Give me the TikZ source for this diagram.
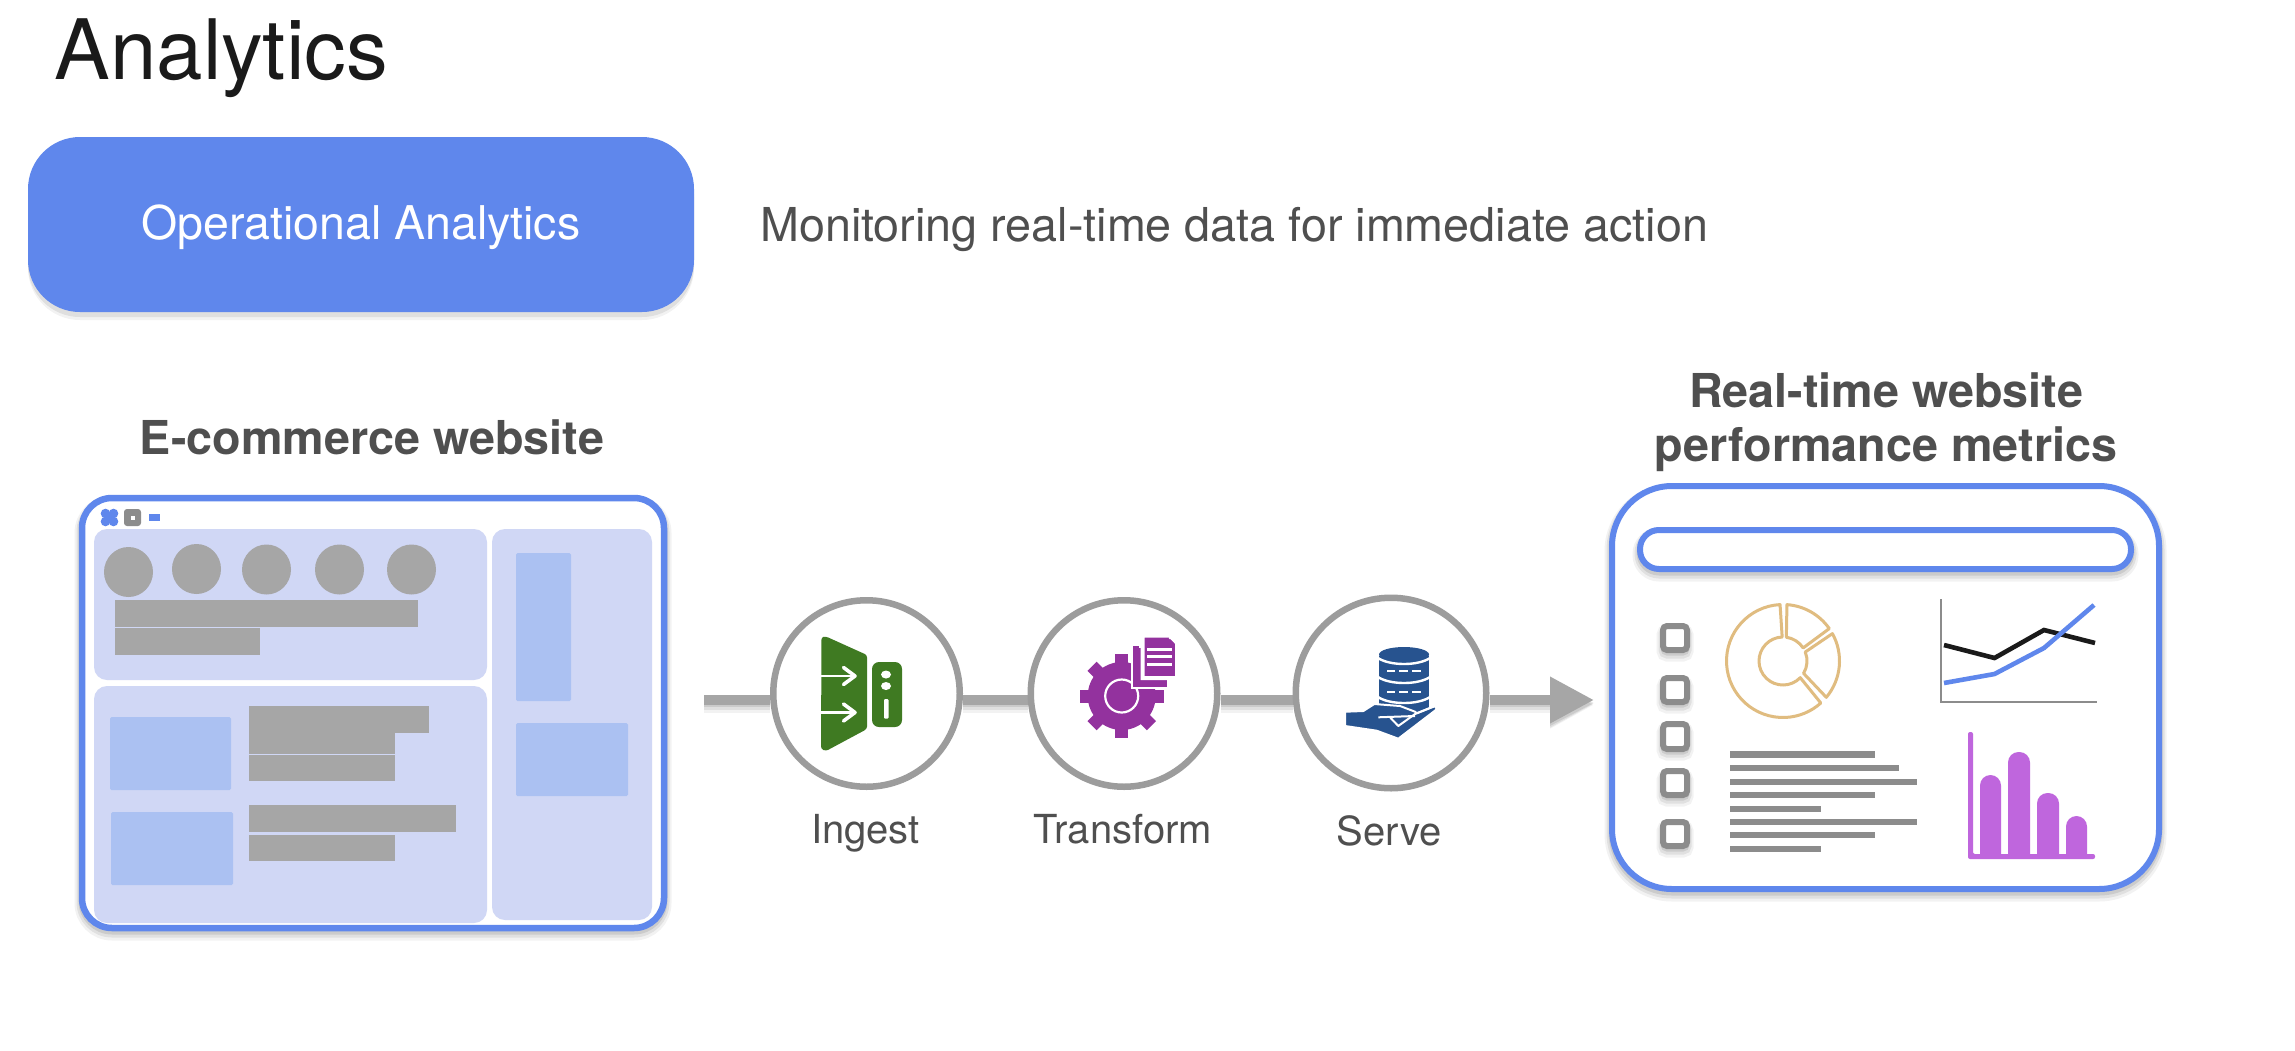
\documentclass[tikz,border=0pt]{standalone}
\usepackage{fontspec}
\setmainfont{TeX Gyre Heros}
\usetikzlibrary{arrows.meta,backgrounds}
\definecolor{bluemain}{HTML}{5F87EC}
\definecolor{panelc}{HTML}{D0D7F5}
\definecolor{innerc}{HTML}{ABC1F2}
\definecolor{grayblock}{HTML}{A6A6A6}
\definecolor{ringc}{HTML}{9C9C9C}
\definecolor{darkgrayc}{HTML}{8C8C8C}
\definecolor{textc}{HTML}{4F4F4F}
\definecolor{titlec}{HTML}{1A1A1A}
\definecolor{greenc}{HTML}{3F7A22}
\definecolor{purplec}{HTML}{93329E}
\definecolor{servec}{HTML}{27538F}
\definecolor{goldc}{HTML}{E0BC80}
\definecolor{barc}{HTML}{BF66DD}
\tikzset{
  softshadow/.style={
    preaction={draw=black,draw opacity=.05,line width=#1+9pt,transform canvas={yshift=-5pt}},
    preaction={draw=black,draw opacity=.07,line width=#1+5pt,transform canvas={yshift=-4pt}},
    preaction={draw=black,draw opacity=.09,line width=#1+1pt,transform canvas={yshift=-3pt}}},
  body/.style={font=\fontsize{40}{46}\selectfont,text=textc,inner sep=0pt,anchor=base},
  heading/.style={font=\fontsize{46.7}{54}\selectfont\bfseries,text=textc,inner sep=0pt,anchor=base},
  stepring/.style={circle,draw=ringc,fill=white,line width=6.5pt,inner sep=0pt},
  conn/.style={draw=grayblock,line width=10pt,softshadow=6pt},
  panel/.style={fill=panelc,rounded corners=13pt},
  inner/.style={fill=innerc,rounded corners=1.5pt},
  block/.style={fill=grayblock},
  lineblock/.style={fill=darkgrayc},
  frame/.style={draw=bluemain,line width=6.5pt,fill=white,softshadow=6pt},
  checkbox/.style={draw=darkgrayc,line width=6pt,fill=white,rounded corners=4pt,softshadow=4pt},
  donut/.style={draw=goldc,line width=3pt,line join=round},
}
\begin{document}
\begin{tikzpicture}[x=1pt,y=-1pt]
\useasboundingbox (0,0) rectangle (2295,1050);

% title and button
\node[anchor=base west,inner sep=0pt,text=titlec,font=\fontsize{83.4}{90}\selectfont] (title) at (54.5,79) {Analytics};
\node[fill=bluemain,rounded corners=52pt,minimum width=666pt,minimum height=175pt,inner sep=0pt,outer sep=0pt,
  text=white,font=\fontsize{46.5}{54}\selectfont,text height=38pt,text depth=9pt,
  preaction={fill=black,fill opacity=.05,transform canvas={yshift=-8pt}},
  preaction={fill=black,fill opacity=.08,transform canvas={yshift=-5pt}}] (opbtn) at (361,224.5) {Operational Analytics};
\node[anchor=base west,inner sep=0pt,text=textc,font=\fontsize{46.7}{54}\selectfont] (desc) at (760,241) {Monitoring real-time data for immediate action};

% left browser
\node[heading] (ecom) at (372,454) {E-commerce website};
\draw[frame,rounded corners=30pt] (82,498) rectangle (664,928);
\fill[panel] (94,529) rectangle (487,680);
\fill[panel] (94,686) rectangle (487,923);
\fill[panel] (492,529) rectangle (652,920);
% window buttons
\begin{scope}[fill=bluemain]
\fill (105.5,513.5) circle (4.8);
\fill (113.5,513.5) circle (4.8);
\fill (105.5,521.5) circle (4.8);
\fill (113.5,521.5) circle (4.8);
\fill (106,514) rectangle (113,521);
\end{scope}
\fill[darkgrayc,rounded corners=3pt] (124,509) rectangle (141,526);
\fill[white] (130.5,515.5) rectangle (134.5,519.5);
\fill[bluemain] (149,514) rectangle (160,521);
% circles
\fill[block] (128.5,572) ellipse [x radius=24.5,y radius=25];
\fill[block] (196.5,569) ellipse [x radius=24.5,y radius=25];
\fill[block] (266.5,569.5) ellipse [x radius=24.5,y radius=25];
\fill[block] (339.5,569.5) ellipse [x radius=24.5,y radius=25];
\fill[block] (411.5,569.5) ellipse [x radius=24.5,y radius=25];
% bars
\fill[block] (115,600) rectangle (418,627);
\fill[block] (115,628) rectangle (260,655);
\fill[block] (249,706) rectangle (429,733);
\fill[block] (249,733) rectangle (395,754);
\fill[block] (249,755) rectangle (395,781);
\fill[block] (249,805) rectangle (456,832);
\fill[block] (249,835) rectangle (395,861);
% inner blue
\fill[inner] (110,717) rectangle (231,790);
\fill[inner] (111,812) rectangle (233,885);
\fill[inner] (516,553) rectangle (571,701);
\fill[inner] (516,723) rectangle (628,796);

% pipeline nodes
\node[stepring,minimum size=186.5pt] (ingest) at (866.5,693.5) {};
\node[stepring,minimum size=186.5pt] (transform) at (1124,693.5) {};
\node[stepring,minimum size=190.5pt] (serve) at (1391,693) {};
\coordinate (start) at (704,700);
\coordinate (tip) at (1594,700);
\begin{pgfonlayer}{background}
\fill[white] (0,0) rectangle (2295,1050);
\draw[conn] (start) -- (start -| ingest.west);
\draw[conn] (start -| ingest.east) -- (start -| transform.west);
\draw[conn] (start -| transform.east) -- (start -| serve.west);
\draw[conn,-{Triangle[length=44pt,width=44pt]}] (start -| serve.east) -- (tip);
\end{pgfonlayer}
\node[body] (lingest) at (865.5,843) {Ingest};
\node[body] (ltransform) at (1123,843) {Transform};
\node[body] (lserve) at (1389,845) {Serve};

% ingest icon
\fill[greenc,rounded corners=2.5pt] (821.5,637) -- (826,636.5) -- (867,655) -- (867,729) -- (826,751) -- (821,749) -- cycle;
\begin{scope}[draw=white]
\draw[line width=2.6pt] (821,676) -- (854,676);
\draw[line width=2.6pt] (821,712.5) -- (854,712.5);
\draw[line width=3.6pt,line cap=round,line join=round] (843.5,667.5) -- (855,676) -- (843.5,684.5);
\draw[line width=3.6pt,line cap=round,line join=round] (843.5,704) -- (855,712.5) -- (843.5,721);
\end{scope}
\fill[greenc,rounded corners=7pt] (872,662) rectangle (902,727);
\fill[white] (886,674.5) ellipse [x radius=5,y radius=4];
\fill[white] (886,686) ellipse [x radius=5,y radius=4];
\fill[white,rounded corners=1pt] (884,699) rectangle (888.5,718.5);

% transform icon
\begin{scope}[shift={(1121.7,696)}]
\fill[purplec] (0,0) circle (34);
\foreach \a in {0,45,90,135} {
  \fill[purplec,rotate=\a] (-6.5,-42) rectangle (6.5,42);
}
\draw[white,line width=2.2pt] (0,0) circle (16.5);
\end{scope}
\draw[white,line width=4pt,fill=purplec] (1132.5,646) rectangle (1166.5,687);
\fill[purplec] (1132.5,646) rectangle (1138.5,687);
\fill[purplec] (1132.5,679) rectangle (1166.5,687);
\draw[white,line width=4pt,fill=purplec] (1142.5,635.5) -- (1170,635.5) -- (1177,643) -- (1177,678) -- (1142.5,678) -- cycle;
\fill[white] (1170,638) circle (1.5);
\fill[white] (1147,647.5) rectangle (1172,650.5);
\fill[white] (1147,655) rectangle (1172,658);
\fill[white] (1147,662.5) rectangle (1172,666);

% serve icon
\fill[servec] (1379,656) rectangle (1429,716);
\fill[servec] (1404,654.5) ellipse [x radius=25,y radius=7.5];
\draw[white,line width=2.4pt] (1378,658) .. controls (1390,666) and (1418,666) .. (1430,658);
\draw[white,line width=2.4pt] (1378,677) .. controls (1390,685) and (1418,685) .. (1430,677);
\draw[white,line width=2.4pt] (1378,697) .. controls (1390,705) and (1418,705) .. (1430,697);
\foreach \yy in {670.7,691.7} {
  \fill[white] (1387,\yy-1.2) rectangle (1395,\yy+1.2);
  \fill[white] (1399,\yy-1.2) rectangle (1408,\yy+1.2);
  \fill[white] (1412,\yy-1.2) rectangle (1421,\yy+1.2);
}
\fill[servec,draw=white,line width=2pt,line join=round] (1345,711.7) -- (1363.3,711) -- (1374.3,704) -- (1400,706) -- (1415,711.7) -- (1416.7,713.3) -- (1435,706) -- (1436.7,709.3) -- (1398.3,738.7) -- (1376.7,730.7) -- (1345,726) -- cycle;
\draw[white,line width=2pt,line join=round] (1378.3,717.3) -- (1415,716);
\draw[white,line width=2pt,line join=round] (1390,717.3) -- (1398.3,726) -- (1415,714) -- (1435,706);

% right dashboard
\node[heading] (real1) at (1886,407) {Real-time website};
\node[heading] (real2) at (1886,461) {performance metrics};
\draw[frame,line width=6pt,rounded corners=60pt] (1612,486) rectangle (2159,889);
\draw[frame,line width=6pt,rounded corners=19pt] (1640,530) rectangle (2131,569);
\draw[checkbox] (1663,626) rectangle (1687,650);
\draw[checkbox] (1663,678) rectangle (1687,702);
\draw[checkbox] (1663,724) rectangle (1687,749);
\draw[checkbox] (1663,771) rectangle (1687,795);
\draw[checkbox] (1663,822) rectangle (1687,846);

% donut
\begin{scope}[shift={(1783,661)}]
\draw[donut] (93:56.5pt) arc[start angle=93,end angle=312,radius=56.5pt] -- (-44:24pt) arc[start angle=-44,end angle=-268,radius=24pt] -- cycle;
\draw[donut] (86:56.5pt) arc[start angle=86,end angle=35,radius=56.5pt] -- (33:24pt) arc[start angle=33,end angle=82,radius=24pt] -- cycle;
\draw[donut] (29:56.5pt) arc[start angle=29,end angle=-40,radius=56.5pt] -- (-31:24pt) arc[start angle=-31,end angle=22,radius=24pt] -- cycle;
\end{scope}

% line chart
\draw[darkgrayc,line width=2.6pt] (1941,599) -- (1941,702) -- (2097,702);
\draw[titlec,line width=4.6pt] (1944,645) -- (1994.5,658) -- (2044,630) -- (2095,643);
\draw[bluemain,line width=4.6pt] (1944,683) -- (1994.5,674) -- (2044,648) -- (2094,605);

% text lines
\fill[lineblock] (1730,751) rectangle (1875,757.5);
\fill[lineblock] (1730,765) rectangle (1899,771);
\fill[lineblock] (1730,779) rectangle (1917,785);
\fill[lineblock] (1730,792) rectangle (1875,798);
\fill[lineblock] (1730,805.5) rectangle (1821,811.5);
\fill[lineblock] (1730,819) rectangle (1917,825);
\fill[lineblock] (1730,832) rectangle (1875,838);
\fill[lineblock] (1730,845.5) rectangle (1821,851.5);

% bar chart
\fill[barc,rounded corners=2pt] (1968,732) -- (1973,732) -- (1973,854) -- (2095,854) -- (2095,859) -- (1968,859) -- cycle;
\fill[barc,rounded corners=10.5pt] (1980,856) -- (1980,775) -- (2001,775) -- (2001,856);
\fill[barc,rounded corners=10.5pt] (2008,856) -- (2008,752) -- (2030,752) -- (2030,856);
\fill[barc,rounded corners=10.5pt] (2037,856) -- (2037,793) -- (2059,793) -- (2059,856);
\fill[barc,rounded corners=10.5pt] (2066,856) -- (2066,816) -- (2087,816) -- (2087,856);
\fill[barc] (1980,840) rectangle (2001,857);
\fill[barc] (2008,840) rectangle (2030,857);
\fill[barc] (2037,840) rectangle (2059,857);
\fill[barc] (2066,840) rectangle (2087,857);
\end{tikzpicture}
\end{document}
